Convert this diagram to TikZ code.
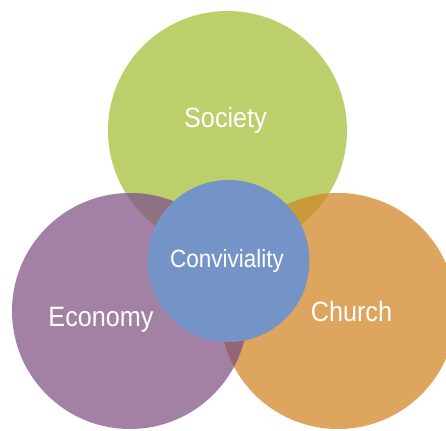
\documentclass[tikz,border=0pt]{standalone}
\usepackage{fontspec}
\setmainfont{Liberation Sans}[FakeStretch=0.9]
\definecolor{socC}{HTML}{BBD06B}
\definecolor{ecoC}{HTML}{A281A4}
\definecolor{chuC}{HTML}{DDA55D}
\definecolor{conC}{HTML}{7494C8}
\definecolor{seC}{HTML}{8E7281}
\definecolor{scC}{HTML}{C99A3A}
\definecolor{ecC}{HTML}{946577}
\tikzset{lbl/.style={text=white, inner sep=0pt, anchor=center}}
\begin{document}
\begin{tikzpicture}[x=1pt,y=-1pt]
\useasboundingbox (0,0) rectangle (446,430);
\clip (0,0) rectangle (446,430);
\coordinate (cS) at (227.5,130.5);
\coordinate (cE) at (130,311);
\coordinate (cC) at (338,311);
\coordinate (cV) at (228.5,261);
\fill[socC] (cS) circle (119.5);
\fill[ecoC] (cE) circle (118);
\fill[chuC] (cC) circle (118);
\begin{scope}
  \clip (cS) circle (119.5);
  \fill[seC] (cE) circle (118);
  \fill[scC] (cC) circle (118);
\end{scope}
\begin{scope}
  \clip (cE) circle (118);
  \fill[ecC] (cC) circle (118);
\end{scope}
\fill[conC] (cV) circle (81);
\node[lbl, font=\fontsize{28}{30}\selectfont] (society) at (225.5,120) {Society};
\node[lbl, font=\fontsize{28}{30}\selectfont] (economy) at (101,320) {Economy};
\node[lbl, font=\fontsize{28}{30}\selectfont] (church) at (351.5,311) {Church};
\node[lbl, font=\fontsize{25}{27}\selectfont] (conviv) at (227,261) {Conviviality};
\end{tikzpicture}
\end{document}
